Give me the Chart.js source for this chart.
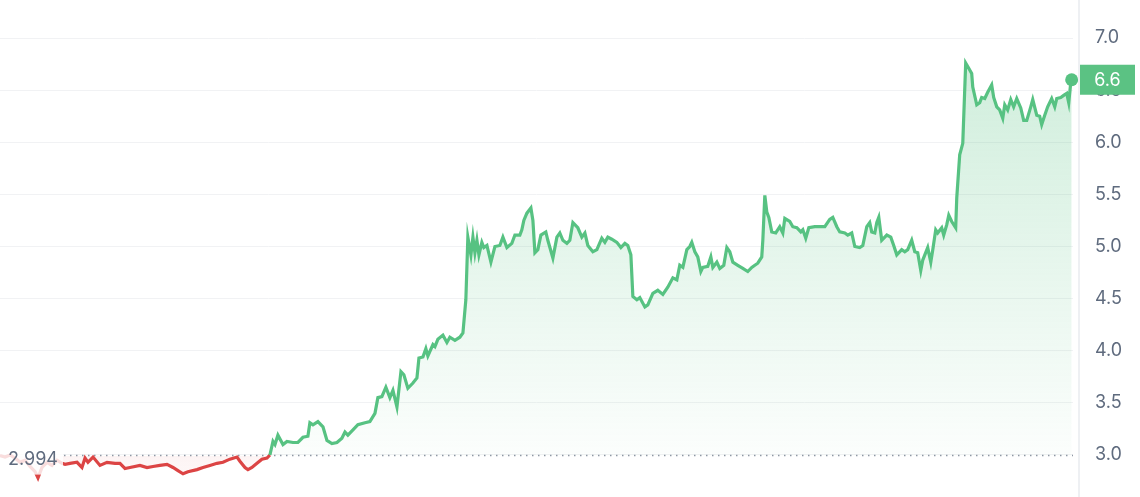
<!DOCTYPE html>
<html>
<head>
<meta charset="utf-8">
<script src="https://cdn.jsdelivr.net/npm/chart.js@4/dist/chart.umd.min.js"></script>
<style>
  html, body { margin: 0; padding: 0; background: #fff; }
  #wrap { position: relative; width: 1140px; height: 497px; }
</style>
</head>
<body>
<div id="wrap"><canvas id="chart"></canvas></div>
<script>
// price line: hours since start of window, and price at that time
const baseline = 2.994;
const yTicks = [3.0, 3.5, 4.0, 4.5, 5.0, 5.5, 6.0, 6.5, 7.0];

const hours = [
  0, 3.8, 7.5, 11.3, 15, 18.8, 22.5, 26.3, 28.5, 31.5, 35.3, 39, 42.8, 46.5,
  48.8, 52.5, 57.8, 61.5, 63.8, 66, 69.8, 75, 80.3, 86.3,
  90, 93.8, 97.5, 105, 110.3, 114.8, 120, 125.3, 129.8, 133.5,
  137.3, 141, 147.8, 152.3, 157.5, 162.8, 167.3, 172.5, 177.8, 180,
  183.8, 186, 189, 192.8, 196.5, 200.3, 202.5,
  204.8, 206.3, 208.5, 212.3, 215.3, 219.8, 223.5, 227.3, 231, 232.5,
  234.8, 238.5, 242.3, 245.3, 249, 252.8, 256.5, 258.8, 261, 264.8,
  268.5, 273.8, 277.5, 281.3, 283.5, 286.5, 289.5, 292.5, 294.8, 297.8,
  300.8, 303, 306, 309.8, 312.8, 314.3, 317.3, 319.5, 321, 324.8,
  326.3, 328.5, 332.3, 335.3, 337.5, 341.3, 345, 347.3, 349.5, 351,
  353.3, 354.8, 356.3, 357.8, 359.3, 361.5, 363, 365.3, 368.3, 371.3,
  375, 377.3, 380.3, 384, 386.3, 390, 391.5, 393, 395.3, 398.3,
  399.8, 401.3, 403.5, 405.8, 409.5, 411, 414.8, 417.8, 420, 422.3,
  425.3, 427.5, 429.8, 433.5, 436.5, 438.8, 441, 444.8, 447.8, 451.5,
  453.8, 456, 459, 462.8, 465.8, 468.8, 471, 473.3, 474.8, 477.8,
  480, 483.8, 486, 489.8, 493.5, 497.3, 501, 504.8, 507.8, 510,
  512.3, 515.3, 517.5, 519, 521.3, 523.5, 525.8, 527.3, 531, 533.3,
  534.8, 537.8, 540, 543, 545.3, 547.5, 549.8, 553.5, 557.3, 561,
  564, 566.3, 568.5, 571.5, 572.3, 573.8, 575.3, 576.8, 579, 582,
  585, 587.3, 588.8, 592.5, 594.8, 597.8, 600.8, 602.3, 604.5, 606.8,
  611.3, 615, 618.8, 622.5, 624.8, 627.8, 630, 633.8, 636, 639,
  641.3, 645, 647.3, 650.3, 652.5, 654, 656.3, 657.8, 659.3, 661.5,
  665.3, 668.3, 670.5, 672.8, 676.5, 678.8, 681, 684, 686.3, 688.5,
  690.8, 692.3, 696, 698.3, 699.8, 702, 703.5, 706.5, 708, 710.3,
  711.8, 714, 717, 717.8, 720, 722.3, 724.5, 726.8, 729, 729.8,
  732.8, 735, 736.5, 738.8, 741, 744, 745.5, 747.8, 750, 752.3,
  753.8, 756, 758.3, 760.5, 762.8, 765.8, 768, 770.3, 773.3, 774.8,
  777.8, 780, 781.5, 783.8, 786, 789, 791.3, 792.8, 795.8, 798,
  800.3, 801.8, 803.3, 804,
];

const prices = [
  2.994, 2.98, 3.00, 2.97, 2.93, 2.95, 2.89, 2.84, 2.78, 2.88, 2.93, 2.90, 2.95, 2.92,
  2.91, 2.92, 2.93, 2.88, 2.97, 2.93, 2.98, 2.90, 2.93, 2.92,
  2.92, 2.87, 2.88, 2.90, 2.88, 2.89, 2.90, 2.91, 2.88, 2.85,
  2.82, 2.84, 2.86, 2.88, 2.90, 2.92, 2.93, 2.96, 2.98, 2.94,
  2.88, 2.86, 2.88, 2.92, 2.96, 2.97, 3.00,
  3.13, 3.10, 3.19, 3.10, 3.13, 3.12, 3.12, 3.17, 3.18, 3.31,
  3.29, 3.32, 3.27, 3.14, 3.11, 3.12, 3.16, 3.22, 3.19, 3.24,
  3.29, 3.31, 3.32, 3.40, 3.55, 3.56, 3.65, 3.55, 3.62, 3.46,
  3.80, 3.77, 3.64, 3.69, 3.74, 3.93, 3.94, 4.02, 3.95, 4.06,
  4.04, 4.11, 4.15, 4.08, 4.13, 4.10, 4.13, 4.17, 4.49, 5.09,
  4.92, 5.09, 4.94, 5.06, 4.92, 5.04, 4.99, 5.01, 4.85, 5.00,
  5.01, 5.09, 4.99, 5.03, 5.11, 5.11, 5.16, 5.25, 5.32, 5.37,
  5.25, 4.94, 4.97, 5.11, 5.14, 5.06, 4.89, 5.09, 5.13, 5.06,
  5.03, 5.06, 5.23, 5.18, 5.09, 5.13, 5.01, 4.95, 4.97, 5.08,
  5.04, 5.09, 5.07, 5.04, 4.99, 5.03, 5.01, 4.92, 4.52, 4.49,
  4.51, 4.42, 4.44, 4.55, 4.58, 4.54, 4.61, 4.70, 4.68, 4.82,
  4.80, 4.97, 5.00, 5.04, 4.95, 4.90, 4.76, 4.80, 4.81, 4.90,
  4.80, 4.85, 4.79, 4.82, 4.99, 4.95, 4.85, 4.82, 4.79, 4.76,
  4.80, 4.82, 4.84, 4.90, 5.06, 5.49, 5.33, 5.28, 5.14, 5.13,
  5.19, 5.13, 5.27, 5.24, 5.19, 5.18, 5.14, 5.16, 5.08, 5.18,
  5.19, 5.19, 5.19, 5.26, 5.28, 5.19, 5.14, 5.13, 5.11, 5.13,
  5.00, 4.99, 5.01, 5.19, 5.23, 5.14, 5.13, 5.23, 5.28, 5.06,
  5.11, 5.09, 5.01, 4.92, 4.97, 4.95, 4.97, 5.06, 4.95, 4.94,
  4.77, 4.87, 4.99, 4.85, 4.97, 5.16, 5.13, 5.18, 5.11, 5.21,
  5.30, 5.24, 5.18, 5.47, 5.88, 5.99, 6.76, 6.71, 6.66, 6.53,
  6.36, 6.38, 6.43, 6.42, 6.48, 6.55, 6.43, 6.34, 6.31, 6.23,
  6.36, 6.31, 6.41, 6.34, 6.42, 6.33, 6.21, 6.21, 6.34, 6.41,
  6.26, 6.25, 6.17, 6.26, 6.34, 6.42, 6.34, 6.42, 6.43, 6.45,
  6.47, 6.38, 6.57, 6.60,
];

const GREEN = "#57c282";
const RED = "#dc4444";
const AXIS_TEXT = "#5f6b7e";
const last = prices.length - 1;

function fillGradient(c) {
  const { chart } = c;
  const { ctx, chartArea, scales } = chart;
  if (!chartArea) return "rgba(87,194,130,0.1)";
  const h = chartArea.bottom - chartArea.top;
  const f = Math.min(0.999, Math.max(0, (scales.y.getPixelForValue(baseline) - chartArea.top) / h));
  const g = ctx.createLinearGradient(0, chartArea.top, 0, chartArea.bottom);
  g.addColorStop(0, "rgba(87,194,130,0.32)");
  g.addColorStop(f, "rgba(87,194,130,0.02)");
  g.addColorStop(f + 0.001, "rgba(220,68,68,0.06)");
  g.addColorStop(1, "rgba(220,68,68,0.02)");
  return g;
}

const overlay = {
  id: "overlay",
  beforeDatasetsDraw(chart) {
    const { ctx, chartArea, scales: { y } } = chart;
    const yb = y.getPixelForValue(baseline);
    ctx.save();
    ctx.strokeStyle = "#8f97a4";
    ctx.lineWidth = 1.5;
    ctx.setLineDash([1.5, 4.5]);
    ctx.beginPath();
    ctx.moveTo(chartArea.left + 64, yb);
    ctx.lineTo(chartArea.right, yb);
    ctx.stroke();
    ctx.restore();
  },
  afterDatasetsDraw(chart) {
    const { ctx, chartArea, scales: { y } } = chart;
    const yb = y.getPixelForValue(baseline);
    ctx.save();
    ctx.fillStyle = "rgba(255,255,255,0.82)";
    ctx.fillRect(chartArea.left, yb - 14, 63, 33);
    ctx.fillStyle = AXIS_TEXT;
    ctx.font = "18px Inter";
    ctx.textBaseline = "middle";
    ctx.textAlign = "left";
    ctx.fillText(baseline.toFixed(3), chartArea.left + 8, yb + 3.5);
    ctx.restore();
  },
  afterDraw(chart) {
    const { ctx, chartArea, scales: { y }, width, height } = chart;
    ctx.save();
    // axis separator
    ctx.strokeStyle = "#eef0f3";
    ctx.lineWidth = 2;
    ctx.beginPath();
    ctx.moveTo(chartArea.right + 6, 0);
    ctx.lineTo(chartArea.right + 6, height);
    ctx.stroke();
    // last price tag
    const yl = y.getPixelForValue(prices[last]);
    ctx.fillStyle = "#5bc283";
    ctx.fillRect(chartArea.right + 7, yl - 15, width - chartArea.right - 12, 30);
    ctx.fillStyle = "#fff";
    ctx.font = "18px Inter";
    ctx.textAlign = "center";
    ctx.textBaseline = "middle";
    ctx.fillText(prices[last].toFixed(1), chartArea.right + 7 + (width - chartArea.right - 12) / 2, yl + 1);
    ctx.restore();
  },
};

new Chart(document.getElementById("chart"), {
  type: "line",
  data: {
    datasets: [{
      data: hours.map((h, i) => ({ x: h, y: prices[i] })),
      borderWidth: 3.2,
      tension: 0,
      clip: false,
      borderColor: GREEN,
      segment: {
        borderColor: (c) => (c.p0.parsed.y < baseline || c.p1.parsed.y < baseline ? RED : GREEN),
      },
      pointRadius: (c) => (c.dataIndex === last ? 6.5 : 0),
      pointBackgroundColor: GREEN,
      pointBorderWidth: 0,
      pointHoverRadius: 0,
      backgroundColor: fillGradient,
      fill: { value: baseline },
    }],
  },
  options: {
    responsive: true,
    maintainAspectRatio: false,
    animation: false,
    events: [],
    layout: { padding: 0, autoPadding: false },
    plugins: { legend: { display: false }, tooltip: { enabled: false } },
    scales: {
      x: { type: "linear", display: false, min: 0, max: 805 },
      y: {
        position: "right",
        min: 2.597,
        max: 7.365,
        afterBuildTicks: (s) => { s.ticks = yTicks.map((v) => ({ value: v })); },
        afterFit: (s) => { s.width = 67; s.paddingTop = 0; s.paddingBottom = 0; },
        grid: { color: "#f1f2f4", drawTicks: false },
        border: { display: false },
        ticks: {
          padding: 22,
          color: AXIS_TEXT,
          font: { family: "Inter", size: 18 },
          callback: (v) => Number(v).toFixed(1),
        },
      },
    },
  },
  plugins: [overlay],
});
</script>
</body>
</html>
